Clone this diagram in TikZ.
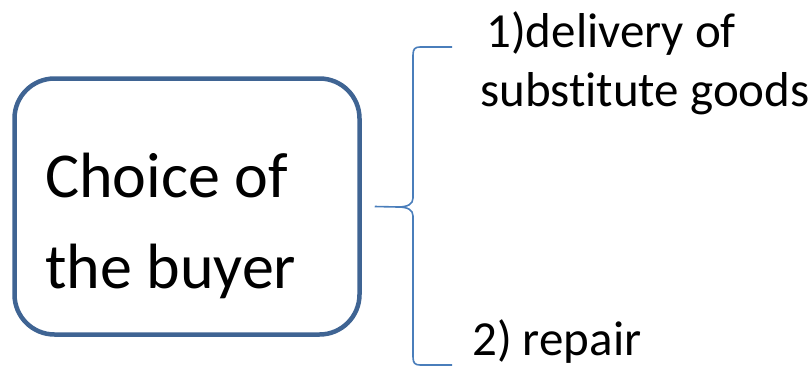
\documentclass[tikz,border=0pt]{standalone}
\usepackage{fontspec}
\setmainfont[Ligatures=CommonOff]{Carlito}
\usetikzlibrary{positioning,calc}
\definecolor{boxline}  {HTML}{3F6493}
\definecolor{braceline}{HTML}{4A7EBB}
\definecolor{ink}      {HTML}{000000}
\tikzset{
  choicebox/.style  ={draw=boxline, line width=4.5pt, rounded corners=40pt,
                      minimum width=345pt, minimum height=256pt},
  choicelabel/.style={align=flush left, inner sep=0pt, anchor=base west,
                      text=ink, font=\fontsize{64}{91}\selectfont},
  option/.style     ={align=flush left, inner sep=0pt, anchor=base west,
                      text=ink, font=\fontsize{49}{59}\selectfont},
  bracearc/.style   ={draw=braceline, line width=1.6pt},
}
\begin{document}
\begin{tikzpicture}[x=1pt,y=-1pt]
  \useasboundingbox (0,0) rectangle (811,367);
  \node[choicebox] (buyer) at (187,206.5) {};
  \node[choicelabel] (label) at (45,288) {Choice of\\the buyer};
  % brace with its tip just right of the box
  \coordinate (tip) at ([xshift=13pt]buyer.east);
  \coordinate (top) at (452,47);
  \coordinate (bot) at (452,365);
  \draw[bracearc] (top) -- (420,47) .. controls (415,47) and (413,49) .. (413,55)
    -- (413,198) .. controls (413,204) and (408,207) .. (398,207) -- (tip)
    -- (398,207) .. controls (408,207) and (413,210) .. (413,216)
    -- (413,357) .. controls (413,363) and (415,365) .. (420,365) -- (bot);
  \node[option] (first) at (480,106) {\hspace*{6pt}1)delivery of\\substitute goods};
  \node[option] (second) at (472,355) {2) repair};
\end{tikzpicture}
\end{document}
